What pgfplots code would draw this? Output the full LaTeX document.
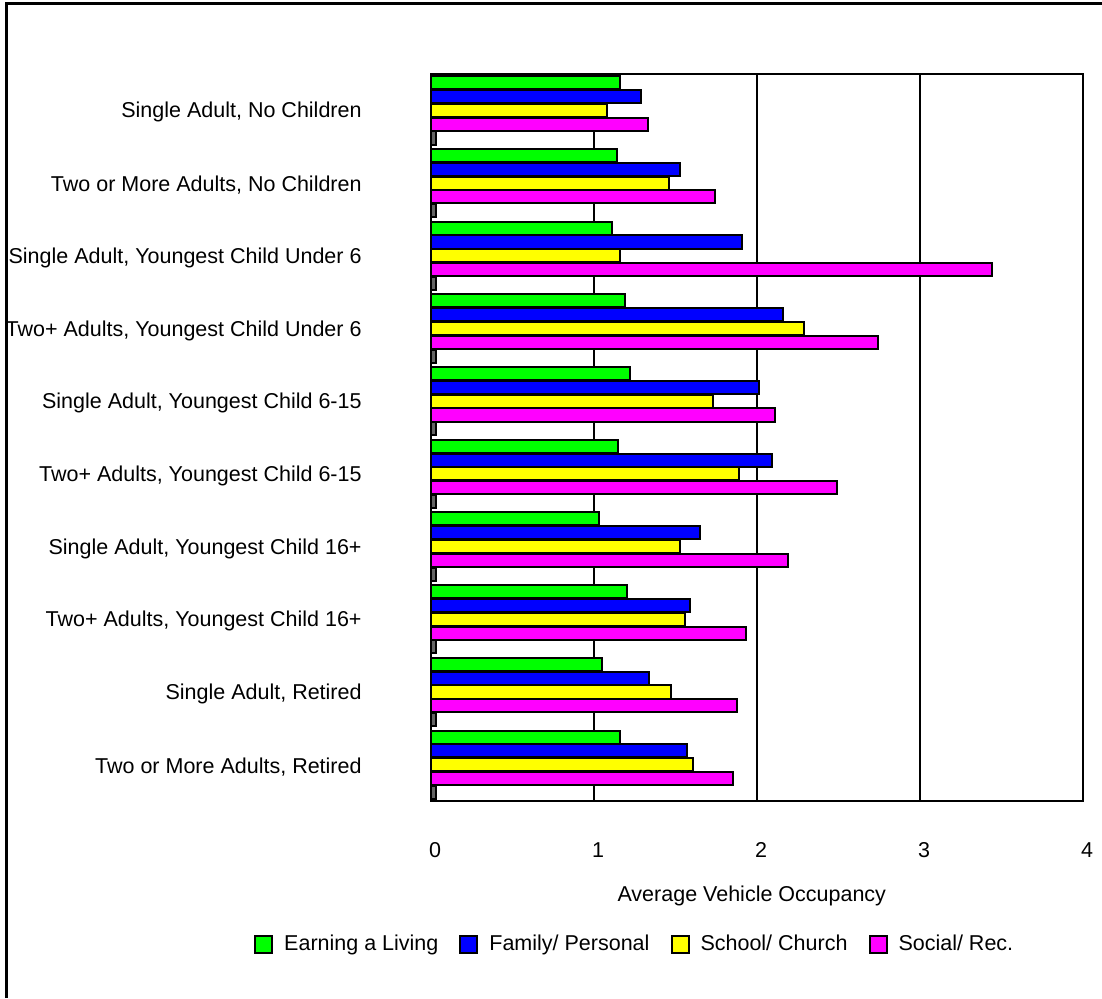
\documentclass[border=0pt]{standalone}
\usepackage{pgfplots}
\usepackage{pgfplotstable}
\pgfplotsset{compat=1.18}
\usepackage{fontspec}
\setmainfont{Liberation Sans}
\definecolor{cgreen}{RGB}{0,255,0}
\definecolor{cblue}{RGB}{0,0,255}
\definecolor{cyellow}{RGB}{255,255,0}
\definecolor{cmagenta}{RGB}{255,0,255}
\definecolor{cgray}{RGB}{100,100,100}
\pgfplotstableread{
idx earn fam school social other
0 1.16 1.29 1.08 1.33 0.03
1 1.14 1.53 1.46 1.74 0.03
2 1.11 1.91 1.16 3.44 0.03
3 1.19 2.16 2.29 2.74 0.03
4 1.22 2.01 1.73 2.11 0.03
5 1.15 2.09 1.89 2.49 0.03
6 1.03 1.65 1.53 2.19 0.03
7 1.20 1.59 1.56 1.93 0.03
8 1.05 1.34 1.47 1.88 0.03
9 1.16 1.57 1.61 1.85 0.03
}\datatable
\begin{document}
\fontsize{10.75}{13}\selectfont
\begin{tikzpicture}
\path[use as bounding box] (0,0) rectangle (551pt,-499pt);
\draw[line width=1.5pt] (3pt,-499pt) -- (3pt,-1.5pt) -- (551pt,-1.5pt);
\begin{axis}[
  at={(215.5pt,-37pt)}, anchor=north west,
  scale only axis, width=326pt, height=363.5pt,
  xmin=0, xmax=4, ymin=-0.5, ymax=9.5, y dir=reverse,
  xbar, bar width=0.18,
  axis line style={line width=1pt},
  xmajorgrids, grid style={black, line width=1pt},
  major tick length=0pt,
  xtick={0,1,2,3,4}, xticklabels={0,1,2,3,4},
  xticklabel style={anchor=center, inner sep=0pt, yshift=-24.5pt, xshift=2pt},
  ytick={0,...,9},
  yticklabels={{Single Adult, No Children},{Two or More Adults, No Children},{Single Adult, Youngest Child Under 6},{Two+ Adults, Youngest Child Under 6},{Single Adult, Youngest Child 6-15},{Two+ Adults, Youngest Child 6-15},{Single Adult, Youngest Child 16+},{Two+ Adults, Youngest Child 16+},{Single Adult, Retired},{Two or More Adults, Retired}},
  yticklabel style={anchor=east, inner sep=0pt, xshift=-34.5pt, yshift=-1pt},
  xlabel={Average Vehicle Occupancy},
  xlabel style={at={(axis description cs:0.492,-0.1307)}, anchor=center, inner sep=0pt},
  legend columns=4,
  legend style={draw=none, fill=none, at={(axis description cs:0.314,-0.1967)}, anchor=center,
    /tikz/every even column/.append style={column sep=8.5pt},
    /tikz/every odd column/.append style={column sep=3.5pt}},
  legend image code/.code={\draw[#1, line width=1pt] (0pt,-4.25pt) rectangle (8.5pt,4.25pt);},
]
\addplot[fill=cgreen, draw=black, line width=1pt, bar shift=-0.38] table[x=earn,y=idx]{\datatable};
\addlegendentry{Earning a Living}
\addplot[fill=cblue, draw=black, line width=1pt, bar shift=-0.19] table[x=fam,y=idx]{\datatable};
\addlegendentry{Family/ Personal}
\addplot[fill=cyellow, draw=black, line width=1pt, bar shift=0] table[x=school,y=idx]{\datatable};
\addlegendentry{School/ Church}
\addplot[fill=cmagenta, draw=black, line width=1pt, bar shift=0.19] table[x=social,y=idx]{\datatable};
\addlegendentry{Social/ Rec.}
\addplot[fill=cgray, draw=black, line width=1pt, bar shift=0.38, forget plot] table[x=other,y=idx]{\datatable};
\end{axis}
\end{tikzpicture}
\end{document}
